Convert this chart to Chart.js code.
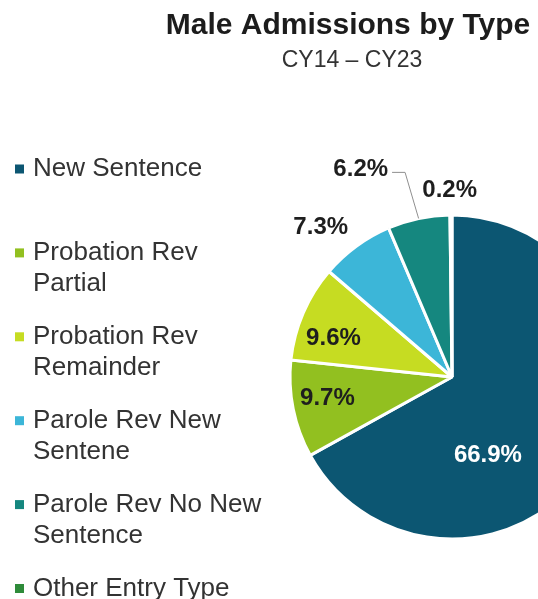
<!DOCTYPE html>
<html>
<head>
<meta charset="utf-8">
<title>Male Admissions by Type</title>
<script src="https://cdn.jsdelivr.net/npm/chart.js@4.4.1/dist/chart.umd.min.js"></script>
<style>
  html, body { margin: 0; padding: 0; background: #fff; }
  #wrap { width: 538px; height: 599px; overflow: hidden; position: relative; background: #fff; }
  #admissionsChart { display: block; }
</style>
</head>
<body>
<div id="wrap"><canvas id="admissionsChart" width="700" height="599"></canvas></div>
<script>
const admissionTypes = [
    ["New Sentence"],
    ["Probation Rev", "Partial"],
    ["Probation Rev", "Remainder"],
    ["Parole Rev New", "Sentene"],
    ["Parole Rev No New", "Sentence"],
    ["Other Entry Type"],
];
const admissionShares = [66.9, 9.7, 9.6, 7.3, 6.2, 0.2];
const sliceColors = ["#0C5672", "#92C020", "#C6DC22", "#3CB6D8", "#15877F", "#2E8B3A"];
const chartTitle = "Male Admissions by Type";
const chartSubtitle = "CY14 \u2013 CY23";

// where each percentage sits: fraction of the slice's sweep, fraction of the radius
const labelSpots = [
    { along: 0.644, out: 0.53, color: "#ffffff" },
    { along: 0.55, out: 0.78, color: "#1e1e1e" },
    { along: 0.35, out: 0.77, color: "#1e1e1e" },
    { along: 0.31, out: 1.23, color: "#1e1e1e" },
    { along: -0.03, out: 1.40, color: "#1e1e1e", leader: true },
    { along: 0.0, out: 1.15, color: "#1e1e1e" },
];

const fontFamily = '"Liberation Sans", Arial, sans-serif';

const headerAndLegend = {
    id: "headerAndLegend",
    afterDraw(chart) {
        const ctx = chart.ctx;
        ctx.save();
        ctx.textAlign = "center";
        ctx.textBaseline = "middle";
        ctx.fillStyle = "#1c1c1c";
        ctx.font = `bold 30px ${fontFamily}`;
        ctx.fillText(chartTitle, 348, 26);
        ctx.fillStyle = "#333333";
        ctx.font = `23px ${fontFamily}`;
        ctx.fillText(chartSubtitle, 352, 61);

        // legend down the left side, evenly spaced
        ctx.textAlign = "left";
        ctx.font = `26px ${fontFamily}`;
        admissionTypes.forEach((lines, i) => {
            const mid = 169 + 83.9 * i;
            ctx.fillStyle = sliceColors[i];
            ctx.fillRect(15, mid - 4.5, 9, 9);
            ctx.fillStyle = "#333333";
            lines.forEach((line, k) => ctx.fillText(line, 33, mid + 31 * k));
        });
        ctx.restore();
    },
};

const sliceLabels = {
    id: "sliceLabels",
    afterDatasetsDraw(chart) {
        const ctx = chart.ctx;
        const arcs = chart.getDatasetMeta(0).data;
        ctx.save();
        ctx.font = `bold 24px ${fontFamily}`;
        ctx.textAlign = "center";
        ctx.textBaseline = "middle";
        arcs.forEach((arc, i) => {
            const { x, y, startAngle, endAngle, outerRadius } =
                arc.getProps(["x", "y", "startAngle", "endAngle", "outerRadius"], true);
            const spot = labelSpots[i];
            const a = startAngle + spot.along * (endAngle - startAngle);
            const lx = x + Math.cos(a) * outerRadius * spot.out;
            const ly = y + Math.sin(a) * outerRadius * spot.out;
            const text = admissionShares[i].toFixed(1) + "%";
            if (spot.leader) {
                const mid = (startAngle + endAngle) / 2;
                const right = lx + ctx.measureText(text).width / 2;
                ctx.strokeStyle = "#8f8f8f";
                ctx.lineWidth = 1;
                ctx.beginPath();
                ctx.moveTo(x + Math.cos(mid) * outerRadius, y + Math.sin(mid) * outerRadius);
                ctx.lineTo(right + 17, ly + 3);
                ctx.lineTo(right + 4, ly + 3);
                ctx.stroke();
            }
            ctx.fillStyle = spot.color;
            ctx.fillText(text, lx, ly);
        });
        ctx.restore();
    },
};

const ctx = document.getElementById("admissionsChart").getContext("2d");
new Chart(ctx, {
    type: "pie",
    data: {
        labels: admissionTypes,
        datasets: [
            {
                data: admissionShares,
                backgroundColor: sliceColors,
                borderColor: "#ffffff",
                borderWidth: 3,
            },
        ],
    },
    options: {
        responsive: false,
        animation: false,
        devicePixelRatio: 1,
        radius: 162,
        layout: { padding: { left: 290, right: 86, top: 215, bottom: 60 } },
        plugins: {
            legend: { display: false },
            tooltip: { enabled: false },
            title: { display: false },
        },
    },
    plugins: [sliceLabels, headerAndLegend],
});
</script>
</body>
</html>
